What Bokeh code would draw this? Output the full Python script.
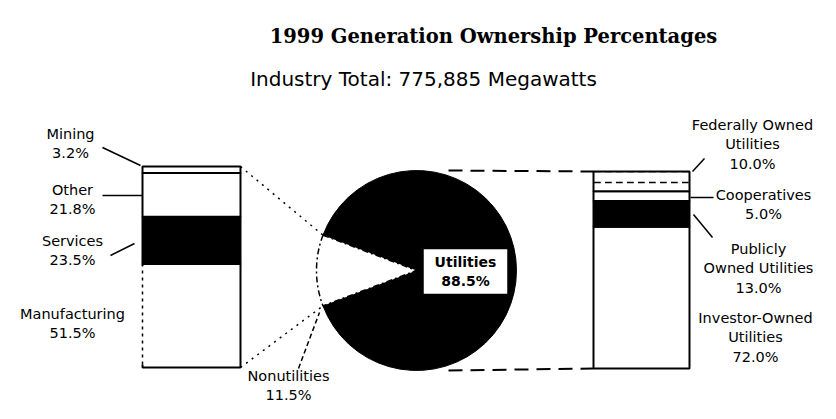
import numpy as np
from bokeh.plotting import figure
from bokeh.models import Range1d
from bokeh.core.properties import value
from bokeh.embed import file_html
from bokeh.resources import INLINE

# ---------------- data ----------------
title_text = "1999 Generation Ownership Percentages"
subtitle_text = "Industry Total: 775,885 Megawatts"

pie_names = ["Utilities", "Nonutilities"]
pie_values = [88.5, 11.5]

nonutil_names = ["Manufacturing", "Services", "Other", "Mining"]
nonutil_values = [51.5, 23.5, 21.8, 3.2]
nonutil_colors = ["white", "black", "white", "white"]

util_names = ["Investor-Owned\nUtilities", "Publicly\nOwned Utilities", "Cooperatives", "Federally Owned\nUtilities"]
util_values = [72.0, 13.0, 5.0, 10.0]
util_colors = ["white", "black", "white", "white"]
util_hatch = ["blank", "blank", "blank", "horizontal_dash"]

# ---------------- layout helpers (picture px -> data) ----------------
W, H = 820, 403
def X(sx): return sx
def Y(sy): return H - sy

p = figure(width=W, height=H, output_backend="svg", toolbar_location=None,
           x_range=Range1d(0, W), y_range=Range1d(0, H),
           x_axis_type=None, y_axis_type=None, min_border=0)
p.grid.visible = False
p.outline_line_color = None
p.background_fill_color = "white"

FONT = value("DejaVu Sans")
LBL = dict(text_font=FONT, text_font_size="14.5px", text_align="center",
           text_baseline="middle", text_line_height=1.24, text_color="black")

# titles
p.text(x=[X(493)], y=[Y(36)], text=[title_text], text_font=value("DejaVu Serif"),
       text_font_style="bold", text_font_size="19.5px", text_align="center",
       text_baseline="middle", text_color="black")
p.text(x=[X(423)], y=[Y(78)], text=[subtitle_text], text_font=FONT,
       text_font_size="20px", text_align="center", text_baseline="middle", text_color="black")

# ---------------- pie ----------------
cx, cy, r = X(416), Y(270), 100
frac_non = pie_values[1] / sum(pie_values)
a0 = np.pi - frac_non * np.pi          # nonutilities wedge centred pointing left
a1 = np.pi + frac_non * np.pi
p.wedge(x=[cx], y=[cy], radius=r, start_angle=[a1], end_angle=[a0 + 2 * np.pi],
        fill_color="black", line_color="black", line_width=1)
p.wedge(x=[cx], y=[cy], radius=r, start_angle=[a0], end_angle=[a1],
        fill_color="white", line_color="black", line_width=1.5, line_dash="6 3 2 3")

# utilities label box
ubx, uby = X(465), Y(271)
p.rect(x=[ubx], y=[uby], width=85, height=46, fill_color="white",
       line_color="black", line_width=1.5)
p.text(x=[ubx], y=[uby], text=[f"{pie_names[0]}\n{pie_values[0]:.1f}%"], text_font=FONT,
       text_font_style="bold", text_font_size="14px", text_align="center",
       text_baseline="middle", text_line_height=1.2, text_color="black")

# ---------------- left stacked bar (nonutilities) ----------------
lb_l, lb_r, lb_b, lb_t = X(142), X(240), Y(367), Y(166)
lscale = (lb_t - lb_b) / sum(nonutil_values)
lcum = np.concatenate([[0], np.cumsum(nonutil_values)])
p.quad(left=lb_l, right=lb_r, bottom=lb_b + lcum[:-1] * lscale, top=lb_b + lcum[1:] * lscale,
       fill_color=nonutil_colors, line_color="black", line_width=2)
# dotted left edge of the manufacturing block, as in the original
p.segment(x0=[lb_l], y0=[lb_b + lcum[0] * lscale + 3], x1=[lb_l], y1=[lb_b + lcum[1] * lscale - 2],
          line_color="white", line_width=3)
p.segment(x0=[lb_l], y0=[lb_b + lcum[0] * lscale + 3], x1=[lb_l], y1=[lb_b + lcum[1] * lscale - 2],
          line_color="black", line_width=1.5, line_dash="3 4")

# ---------------- right stacked bar (utilities) ----------------
rb_l, rb_r, rb_b, rb_t = X(593), X(689), Y(368), Y(171)
rscale = (rb_t - rb_b) / sum(util_values)
rcum = np.concatenate([[0], np.cumsum(util_values)])
p.quad(left=rb_l, right=rb_r, bottom=rb_b + rcum[:-1] * rscale, top=rb_b + rcum[1:] * rscale,
       fill_color=util_colors, line_color="black", line_width=2,
       hatch_pattern=util_hatch, hatch_color="black", hatch_scale=11, hatch_weight=1.5)

# ---------------- connectors ----------------
ux0, uy0 = cx + r * np.cos(a0), cy + r * np.sin(a0)
ux1, uy1 = cx + r * np.cos(a1), cy + r * np.sin(a1)
p.segment(x0=[lb_r, lb_r], y0=[lb_t, lb_b], x1=[ux0, ux1], y1=[uy0, uy1],
          line_color="black", line_width=1.5, line_dash="2 5")
p.segment(x0=[cx + 32, cx + 32], y0=[cy + r, cy - r], x1=[rb_l, rb_l], y1=[rb_t, rb_b],
          line_color="black", line_width=2, line_dash="14 8")

# ---------------- leader lines ----------------
lx0 = [X(102), X(102), X(110), X(692), X(690), X(693)]
ly0 = [Y(147), Y(195), Y(255), Y(171), Y(197), Y(214)]
lx1 = [X(140), X(142), X(134), X(704), X(713), X(712)]
ly1 = [Y(165), Y(195), Y(243), Y(158), Y(197), Y(237)]
p.segment(x0=lx0, y0=ly0, x1=lx1, y1=ly1, line_color="black", line_width=1.5)
p.segment(x0=[X(298)], y0=[Y(368)], x1=[X(319)], y1=[Y(312)], line_color="black",
          line_width=1.5, line_dash="5 3")

# ---------------- category labels ----------------
left_pos_x = [X(72), X(72), X(72), X(70)]
left_pos_y = [Y(323), Y(250), Y(199), Y(143)]
p.text(x=left_pos_x, y=left_pos_y,
       text=[f"{n}\n{v:.1f}%" for n, v in zip(nonutil_names, nonutil_values)], **LBL)

right_pos_x = [X(755), X(758), X(763), X(752)]
right_pos_y = [Y(337), Y(268), Y(204), Y(144)]
p.text(x=right_pos_x, y=right_pos_y,
       text=[f"{n}\n{v:.1f}%" for n, v in zip(util_names, util_values)], **LBL)

p.text(x=[X(288)], y=[Y(385)], text=[f"{pie_names[1]}\n{pie_values[1]:.1f}%"], **LBL)

open("out.html", "w").write(file_html(p, INLINE))
